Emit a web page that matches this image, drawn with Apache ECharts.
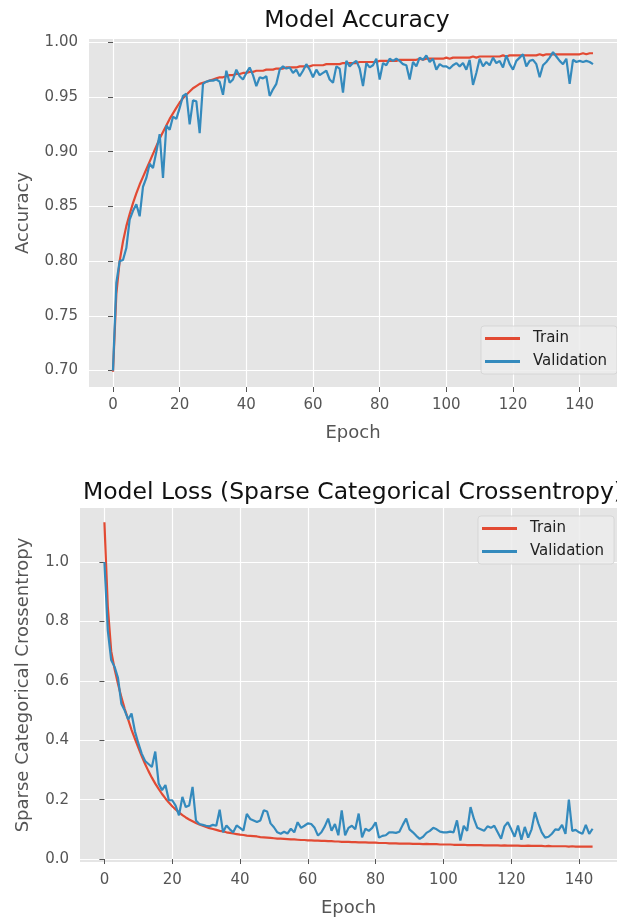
<!DOCTYPE html>
<html>
<head>
<meta charset="utf-8">
<script src="https://cdn.jsdelivr.net/npm/echarts@6/dist/echarts.min.js"></script>
<style>
  html, body { margin: 0; padding: 0; background: #fff; }
  #chart { width: 617px; height: 922px; }
</style>
</head>
<body>
<div id="chart"></div>
<script>
// Training history, one value per epoch (0..144)
const trainAcc = [
  0.699, 0.770, 0.800, 0.818, 0.832, 0.843, 0.853, 0.862, 0.870, 0.877,
  0.884, 0.891, 0.898, 0.905, 0.912, 0.918, 0.924, 0.930, 0.935, 0.940,
  0.945, 0.949, 0.952, 0.955, 0.958, 0.960, 0.962, 0.963, 0.964, 0.965,
  0.966, 0.967, 0.968, 0.968, 0.969, 0.970, 0.970, 0.971, 0.971, 0.972,
  0.972, 0.973, 0.973, 0.974, 0.974, 0.974, 0.975, 0.975, 0.975, 0.976,
  0.976, 0.976, 0.977, 0.977, 0.977, 0.977, 0.978, 0.978, 0.978, 0.978,
  0.979, 0.979, 0.979, 0.979, 0.980, 0.980, 0.980, 0.980, 0.980, 0.981,
  0.981, 0.981, 0.981, 0.981, 0.982, 0.982, 0.982, 0.982, 0.982, 0.982,
  0.983, 0.983, 0.983, 0.983, 0.983, 0.983, 0.984, 0.984, 0.984, 0.984,
  0.984, 0.984, 0.985, 0.984, 0.985, 0.985, 0.985, 0.985, 0.985, 0.985,
  0.986, 0.985, 0.986, 0.986, 0.986, 0.986, 0.986, 0.986, 0.987, 0.986,
  0.987, 0.987, 0.987, 0.987, 0.987, 0.987, 0.987, 0.988, 0.987, 0.988,
  0.988, 0.988, 0.988, 0.988, 0.988, 0.988, 0.988, 0.988, 0.989, 0.988,
  0.989, 0.989, 0.989, 0.989, 0.989, 0.989, 0.989, 0.989, 0.989, 0.989,
  0.989, 0.990, 0.989, 0.990, 0.990
];
const valAcc = [
  0.700, 0.780, 0.800, 0.801, 0.812, 0.838, 0.846, 0.852, 0.841, 0.868,
  0.876, 0.889, 0.885, 0.900, 0.916, 0.876, 0.924, 0.920, 0.932, 0.930,
  0.940, 0.951, 0.953, 0.925, 0.947, 0.946, 0.917, 0.962, 0.964, 0.965,
  0.965, 0.966, 0.964, 0.952, 0.974, 0.963, 0.966, 0.975, 0.969, 0.966,
  0.972, 0.977, 0.970, 0.960, 0.968, 0.967, 0.969, 0.951, 0.957, 0.962,
  0.975, 0.978, 0.976, 0.977, 0.972, 0.975, 0.969, 0.974, 0.980, 0.975,
  0.968, 0.975, 0.970, 0.972, 0.974, 0.966, 0.963, 0.978, 0.976, 0.954,
  0.983, 0.978, 0.981, 0.983, 0.976, 0.960, 0.981, 0.977, 0.979, 0.985,
  0.966, 0.981, 0.979, 0.985, 0.983, 0.985, 0.983, 0.980, 0.979, 0.966,
  0.982, 0.978, 0.986, 0.984, 0.988, 0.982, 0.985, 0.975, 0.980, 0.978,
  0.978, 0.976, 0.979, 0.981, 0.978, 0.981, 0.975, 0.984, 0.961, 0.972,
  0.985, 0.978, 0.982, 0.979, 0.986, 0.981, 0.983, 0.977, 0.988, 0.980,
  0.975, 0.983, 0.986, 0.989, 0.978, 0.983, 0.984, 0.980, 0.968, 0.979,
  0.982, 0.986, 0.991, 0.987, 0.983, 0.980, 0.985, 0.962, 0.984, 0.982,
  0.983, 0.982, 0.983, 0.982, 0.980
];
const trainLoss = [
  1.134, 0.850, 0.700, 0.640, 0.590, 0.545, 0.505, 0.470, 0.435, 0.405,
  0.375, 0.347, 0.320, 0.296, 0.274, 0.254, 0.236, 0.219, 0.204, 0.190,
  0.178, 0.167, 0.157, 0.148, 0.140, 0.133, 0.127, 0.121, 0.116, 0.112,
  0.108, 0.104, 0.101, 0.098, 0.095, 0.093, 0.090, 0.088, 0.086, 0.084,
  0.082, 0.081, 0.079, 0.078, 0.077, 0.076, 0.074, 0.073, 0.072, 0.071,
  0.070, 0.069, 0.069, 0.068, 0.067, 0.066, 0.066, 0.065, 0.064, 0.064,
  0.063, 0.063, 0.062, 0.062, 0.061, 0.061, 0.060, 0.060, 0.059, 0.059,
  0.058, 0.058, 0.058, 0.057, 0.057, 0.056, 0.056, 0.056, 0.055, 0.055,
  0.055, 0.054, 0.054, 0.054, 0.053, 0.053, 0.053, 0.052, 0.052, 0.052,
  0.052, 0.051, 0.051, 0.051, 0.050, 0.051, 0.050, 0.050, 0.050, 0.049,
  0.049, 0.049, 0.049, 0.048, 0.048, 0.048, 0.048, 0.047, 0.047, 0.047,
  0.047, 0.047, 0.046, 0.046, 0.046, 0.046, 0.046, 0.045, 0.046, 0.045,
  0.045, 0.045, 0.045, 0.044, 0.044, 0.045, 0.044, 0.044, 0.044, 0.044,
  0.043, 0.044, 0.043, 0.043, 0.043, 0.043, 0.043, 0.042, 0.043, 0.042,
  0.042, 0.042, 0.042, 0.042, 0.042
];
const valLoss = [
  1.000, 0.770, 0.670, 0.647, 0.610, 0.523, 0.500, 0.470, 0.490, 0.430,
  0.390, 0.355, 0.330, 0.320, 0.310, 0.362, 0.254, 0.232, 0.249, 0.198,
  0.198, 0.180, 0.147, 0.209, 0.175, 0.180, 0.243, 0.130, 0.118, 0.115,
  0.112, 0.110, 0.115, 0.112, 0.166, 0.090, 0.113, 0.100, 0.090, 0.113,
  0.105, 0.096, 0.152, 0.135, 0.130, 0.125, 0.130, 0.164, 0.160, 0.120,
  0.107, 0.090, 0.085, 0.092, 0.086, 0.102, 0.090, 0.124, 0.105, 0.112,
  0.120, 0.118, 0.105, 0.079, 0.090, 0.110, 0.136, 0.095, 0.118, 0.080,
  0.164, 0.080, 0.105, 0.112, 0.100, 0.153, 0.073, 0.102, 0.095, 0.105,
  0.124, 0.072, 0.078, 0.080, 0.090, 0.090, 0.088, 0.092, 0.115, 0.136,
  0.100, 0.090, 0.078, 0.068, 0.075, 0.088, 0.095, 0.105, 0.100, 0.092,
  0.090, 0.090, 0.092, 0.090, 0.130, 0.062, 0.112, 0.095, 0.175, 0.135,
  0.105, 0.100, 0.095, 0.110, 0.105, 0.112, 0.090, 0.068, 0.110, 0.124,
  0.100, 0.075, 0.113, 0.065, 0.108, 0.072, 0.100, 0.158, 0.120, 0.090,
  0.072, 0.075, 0.085, 0.100, 0.098, 0.115, 0.085, 0.200, 0.095, 0.098,
  0.090, 0.085, 0.115, 0.085, 0.102
];

// Tick positions
const epochTicks = [0, 20, 40, 60, 80, 100, 120, 140];
const accTicks = [0.70, 0.75, 0.80, 0.85, 0.90, 0.95, 1.00];
const lossTicks = [0.0, 0.2, 0.4, 0.6, 0.8, 1.0];

const seriesNames = ['Train', 'Validation'];
const RED = '#E24A33';
const BLUE = '#348ABD';
const FONT = 'DejaVu Sans';
const TICK_GREY = '#555555';

const toPoints = arr => arr.map((v, i) => [i, v]);

function xAxisFor(gridIndex) {
  return {
    type: 'value', gridIndex, min: -7.2, max: 151.2,
    name: 'Epoch', nameLocation: 'middle', nameGap: 37,
    nameTextStyle: { fontFamily: FONT, fontSize: 18, color: TICK_GREY },
    axisLine: { show: false },
    axisTick: { show: true, inside: false, length: 5, customValues: epochTicks,
                lineStyle: { color: TICK_GREY, width: 1 } },
    axisLabel: { customValues: epochTicks, margin: 11, fontFamily: FONT, fontSize: 15,
                 color: TICK_GREY, formatter: v => String(Math.round(v)) },
    splitLine: { show: true, lineStyle: { color: '#ffffff', width: 1.2 } }
  };
}

function yAxisFor(gridIndex, min, max, ticks, digits, name, gap) {
  return {
    type: 'value', gridIndex, min, max,
    name, nameLocation: 'middle', nameGap: gap,
    nameTextStyle: { fontFamily: FONT, fontSize: 18, color: TICK_GREY },
    axisLine: { show: false },
    axisTick: { show: true, inside: false, length: 5, customValues: ticks,
                lineStyle: { color: TICK_GREY, width: 1 } },
    axisLabel: { customValues: ticks, margin: 11, fontFamily: FONT, fontSize: 15,
                 color: TICK_GREY, formatter: v => v.toFixed(digits) },
    splitLine: { show: true, lineStyle: { color: '#ffffff', width: 1.2 } }
  };
}

function lineSeries(name, data, color, xi, yi, z) {
  return {
    type: 'line', name, data: toPoints(data),
    xAxisIndex: xi, yAxisIndex: yi,
    showSymbol: false, symbol: 'none', z,
    lineStyle: { color, width: 2.2 }, itemStyle: { color },
    emphasis: { disabled: true }, animation: false
  };
}

function legendAt(left, top) {
  return {
    data: seriesNames, orient: 'vertical', left, top,
    icon: 'rect', itemWidth: 35, itemHeight: 3, itemGap: 8,
    padding: [5, 10, 5, 4],
    backgroundColor: 'rgba(236,236,236,0.85)',
    borderColor: 'rgba(210,210,210,0.8)', borderWidth: 1, borderRadius: 3,
    textStyle: { fontFamily: FONT, fontSize: 15, color: '#222', padding: [0, 0, 0, 8] },
    selectedMode: false
  };
}

const chart = echarts.init(document.getElementById('chart'), null, { renderer: 'canvas' });
chart.setOption({
  backgroundColor: '#ffffff',
  animation: false,
  graphic: [
    { type: 'text', silent: true,
      style: { text: 'Model Accuracy', x: 357, y: 21, textAlign: 'center', textVerticalAlign: 'middle',
               font: '23.5px "DejaVu Sans"', fill: '#111' } },
    { type: 'text', silent: true,
      style: { text: 'Model Loss (Sparse Categorical Crossentropy)', x: 353, y: 493,
               textAlign: 'center', textVerticalAlign: 'middle',
               font: '23.5px "DejaVu Sans"', fill: '#111' } }
  ],
  grid: [
    { left: 89, top: 39, width: 538, height: 348, show: true, backgroundColor: '#E5E5E5', borderWidth: 0 },
    { left: 80, top: 508, width: 547, height: 354, show: true, backgroundColor: '#E5E5E5', borderWidth: 0 }
  ],
  xAxis: [xAxisFor(0), xAxisFor(1)],
  yAxis: [
    yAxisFor(0, 0.685, 1.003, accTicks, 2, 'Accuracy', 57),
    yAxisFor(1, -0.01, 1.182, lossTicks, 1, 'Sparse Categorical Crossentropy', 48)
  ],
  legend: [legendAt(481, 326), legendAt(478, 516)],
  series: [
    lineSeries('Train', trainAcc, RED, 0, 0, 2),
    lineSeries('Validation', valAcc, BLUE, 0, 0, 3),
    lineSeries('Train', trainLoss, RED, 1, 1, 2),
    lineSeries('Validation', valLoss, BLUE, 1, 1, 3)
  ]
});
</script>
</body>
</html>
